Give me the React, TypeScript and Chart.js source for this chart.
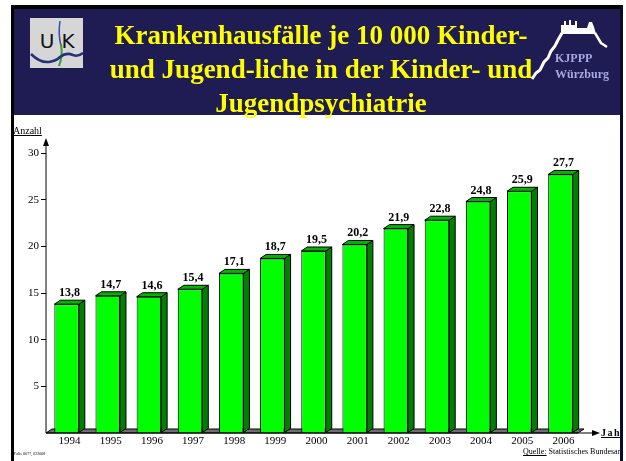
import React, { useEffect, useRef } from 'react';
import { Chart, registerables } from 'chart.js';

Chart.register(...registerables);

const years = ['1994', '1995', '1996', '1997', '1998', '1999', '2000', '2001', '2002', '2003', '2004', '2005', '2006'];
const values = [13.8, 14.7, 14.6, 15.4, 17.1, 18.7, 19.5, 20.2, 21.9, 22.8, 24.8, 25.9, 27.7];
const valueLabels = ['13,8', '14,7', '14,6', '15,4', '17,1', '18,7', '19,5', '20,2', '21,9', '22,8', '24,8', '25,9', '27,7'];
const yMin = 0;
const yMax = 30;
const yStep = 5;
const titleLines = ['Krankenhausfälle je 10 000 Kinder-', 'und Jugend-liche in der Kinder- und', 'Jugendpsychiatrie'];
const yAxisTitle = 'Anzahl';
const xAxisTitle = 'Jahr';
const sourceLabel = 'Quelle:';
const sourceText = ' Statistisches Bundesamt';
const footText = 'Folie 0077, 022008';
const logoText = ['KJPPP', 'Würzburg'];

const SERIF = '"Liberation Serif", "Times New Roman", serif';
const DX = 6;
const DY = -4;

function poly(ctx: CanvasRenderingContext2D, pts: number[][], fill: string) {
  ctx.beginPath();
  ctx.moveTo(pts[0][0], pts[0][1]);
  for (let i = 1; i < pts.length; i++) ctx.lineTo(pts[i][0], pts[i][1]);
  ctx.closePath();
  ctx.fillStyle = fill;
  ctx.fill();
  ctx.strokeStyle = '#000';
  ctx.lineWidth = 1;
  ctx.stroke();
}

const bar3d = {
  id: 'bar3d',
  beforeDatasetsDraw(chart: any) {
    const { ctx, chartArea } = chart;
    const base = chart.scales.y.getPixelForValue(0);
    ctx.save();
    poly(ctx, [
      [chartArea.left, base],
      [chartArea.right - 3, base],
      [chartArea.right - 3 + DX, base + DY],
      [chartArea.left + DX, base + DY],
    ], '#6e6e6e');
    ctx.restore();
  },
  afterDatasetsDraw(chart: any) {
    const { ctx, chartArea } = chart;
    const meta = chart.getDatasetMeta(0);
    ctx.save();
    meta.data.forEach((el: any, i: number) => {
      const { x, y, base, width } = el.getProps(['x', 'y', 'base', 'width'], true);
      const l = x - width / 2;
      const r = x + width / 2;
      poly(ctx, [[r, y], [r + DX, y + DY], [r + DX, base + DY], [r, base]], '#008000');
      poly(ctx, [[l, y], [l + DX, y + DY], [r + DX, y + DY], [r, y]], '#00b400');
      ctx.fillStyle = '#000';
      ctx.font = `bold 12px ${SERIF}`;
      ctx.textAlign = 'center';
      ctx.textBaseline = 'alphabetic';
      ctx.fillText(valueLabels[i], x + 3, y - 8);
    });
    const base = chart.scales.y.getPixelForValue(0);
    const left = chartArea.left;
    ctx.strokeStyle = '#000';
    ctx.fillStyle = '#000';
    ctx.lineWidth = 1;
    // y axis
    ctx.beginPath();
    ctx.moveTo(left, base);
    ctx.lineTo(left, 145);
    ctx.stroke();
    ctx.beginPath();
    ctx.moveTo(left, 138);
    ctx.lineTo(left - 3, 146);
    ctx.lineTo(left + 3, 146);
    ctx.closePath();
    ctx.fill();
    // x axis
    ctx.beginPath();
    ctx.moveTo(left, base);
    ctx.lineTo(593, base);
    ctx.stroke();
    ctx.beginPath();
    ctx.moveTo(600, base);
    ctx.lineTo(592, base - 3);
    ctx.lineTo(592, base + 3);
    ctx.closePath();
    ctx.fill();
    ctx.restore();
  },
};

function ChartCanvas() {
  const ref = useRef<HTMLCanvasElement>(null);
  useEffect(() => {
    if (!ref.current) return;
    const chart = new Chart(ref.current, {
      type: 'bar',
      data: {
        labels: years,
        datasets: [
          {
            data: values,
            backgroundColor: '#00ff00',
            borderColor: '#000',
            borderWidth: 1,
            categoryPercentage: 1,
            barPercentage: 0.595,
          },
        ],
      },
      options: {
        animation: false,
        responsive: false,
        devicePixelRatio: 1,
        layout: { padding: { top: 153, right: 45, left: 0, bottom: 0 } },
        plugins: { legend: { display: false }, tooltip: { enabled: false } },
        scales: {
          x: {
            grid: { display: false, drawTicks: false },
            border: { display: false },
            ticks: {
              color: '#000',
              font: { family: SERIF, size: 11 },
              padding: 2,
              labelOffset: 3,
              maxRotation: 0,
              autoSkip: false,
            },
            afterFit(scale: any) {
              scale.height = 28;
            },
          },
          y: {
            min: yMin,
            max: yMax,
            grid: {
              display: true,
              drawOnChartArea: false,
              drawTicks: true,
              tickLength: 5,
              color: (c: any) => (c.tick && c.tick.value === 0 ? 'rgba(0,0,0,0)' : '#000'),
            },
            border: { display: false },
            ticks: {
              stepSize: yStep,
              color: '#000',
              font: { family: SERIF, size: 11 },
              padding: 2,
              callback: (v: any) => (v === 0 ? '' : String(v)),
            },
            afterFit(scale: any) {
              scale.width = 46;
            },
          },
        },
      },
      plugins: [bar3d],
    } as any);
    return () => chart.destroy();
  }, []);
  return <canvas ref={ref} width={626} height={461} style={{ position: 'absolute', left: 0, top: 0 }} />;
}

export default function App() {
  const abs: React.CSSProperties = { position: 'absolute' };
  return (
    <div style={{ position: 'absolute', left: 0, top: 0, width: 626, height: 461, overflow: 'hidden', background: '#fff', fontFamily: SERIF }}>
      {/* frame */}
      <div style={{ ...abs, left: 11, top: 5, width: 612, height: 4, background: '#000' }} />
      <div style={{ ...abs, left: 14, top: 9, width: 606, height: 106, background: '#1e1c52' }} />
      <div style={{ ...abs, left: 11, top: 5, width: 3, height: 456, background: '#000' }} />
      <div style={{ ...abs, left: 620, top: 5, width: 3, height: 456, background: '#0b0a2a' }} />
      <ChartCanvas />
      {/* left logo */}
      <svg style={{ ...abs, left: 0, top: 0 }} width={626} height={120}>
        <rect x={30} y={18} width={53} height={50} fill="#d6d6d6" />
        <text x={47} y={48} fontFamily='"DejaVu Sans", sans-serif' fontSize={20} fill="#111" textAnchor="middle">U</text>
        <text x={68} y={48} fontFamily='"DejaVu Sans", sans-serif' fontSize={20} fill="#111" textAnchor="middle">K</text>
        <path d="M60,21 Q58,34 61,46" stroke="#3050b0" strokeWidth={1.5} fill="none" />
        <path d="M61,44 Q63,56 59,66" stroke="#30a040" strokeWidth={2} fill="none" />
        <path d="M31,54 Q40,63 49,62 Q56,61 60,57 Q66,52 73,55 Q78,57 83,53" stroke="#27307a" strokeWidth={2.5} fill="none" />
        {/* right logo castle */}
        <polyline points="532,79 536,73 540,70 544,62 548,58 551,51 555,46 558,40 562,33" stroke="#fff" strokeWidth={3} fill="none" />
        <path d="M561,34 L561,25 L564,25 L564,21 L566,21 L566,25 L569,25 L569,20 L571,20 L571,25 L575,25 L575,21 L577,21 L577,28 L587,28 L589,22 L592,22 L594,27 L596,34 Z" fill="#fff" />
        <polyline points="595,33 598,38 601,43 604,45 607,47" stroke="#fff" strokeWidth={2.5} fill="none" />
      </svg>
      <div style={{ ...abs, left: 555, top: 51, fontSize: 12, fontWeight: 'bold', color: '#a8a8e0', lineHeight: '14px', whiteSpace: 'nowrap' }}>{logoText[0]}</div>
      <div style={{ ...abs, left: 555, top: 67, fontSize: 12, fontWeight: 'bold', color: '#a8a8e0', lineHeight: '14px', whiteSpace: 'nowrap' }}>{logoText[1]}</div>
      {/* title */}
      {titleLines.map((t, i) => (
        <div
          key={i}
          style={{ ...abs, left: 0, top: 18 + i * 34, width: 642, textAlign: 'center', fontSize: 27, lineHeight: '34px', fontWeight: 'bold', color: '#ffff00', whiteSpace: 'nowrap' }}
        >
          {t}
        </div>
      ))}
      {/* axis titles */}
      <div style={{ ...abs, left: 13, top: 125, fontSize: 10, lineHeight: '12px', textDecoration: 'underline', color: '#000' }}>{yAxisTitle}</div>
      <div style={{ ...abs, left: 601, top: 426, width: 19, height: 16, overflow: 'hidden' }}>
        <div style={{ fontSize: 10, fontWeight: 'bold', letterSpacing: '1.5px', lineHeight: '14px', textDecoration: 'underline', whiteSpace: 'nowrap', color: '#000' }}>{xAxisTitle}</div>
      </div>
      {/* source */}
      <div style={{ ...abs, left: 523, top: 447, width: 97, height: 11, overflow: 'hidden' }}>
        <div style={{ fontSize: 8, lineHeight: '10px', whiteSpace: 'nowrap', color: '#000' }}>
          <span style={{ textDecoration: 'underline' }}>{sourceLabel}</span>
          {sourceText}
        </div>
      </div>
      <div style={{ ...abs, left: 14, top: 451, fontSize: 4, lineHeight: '5px', whiteSpace: 'nowrap', color: '#000' }}>{footText}</div>
    </div>
  );
}
